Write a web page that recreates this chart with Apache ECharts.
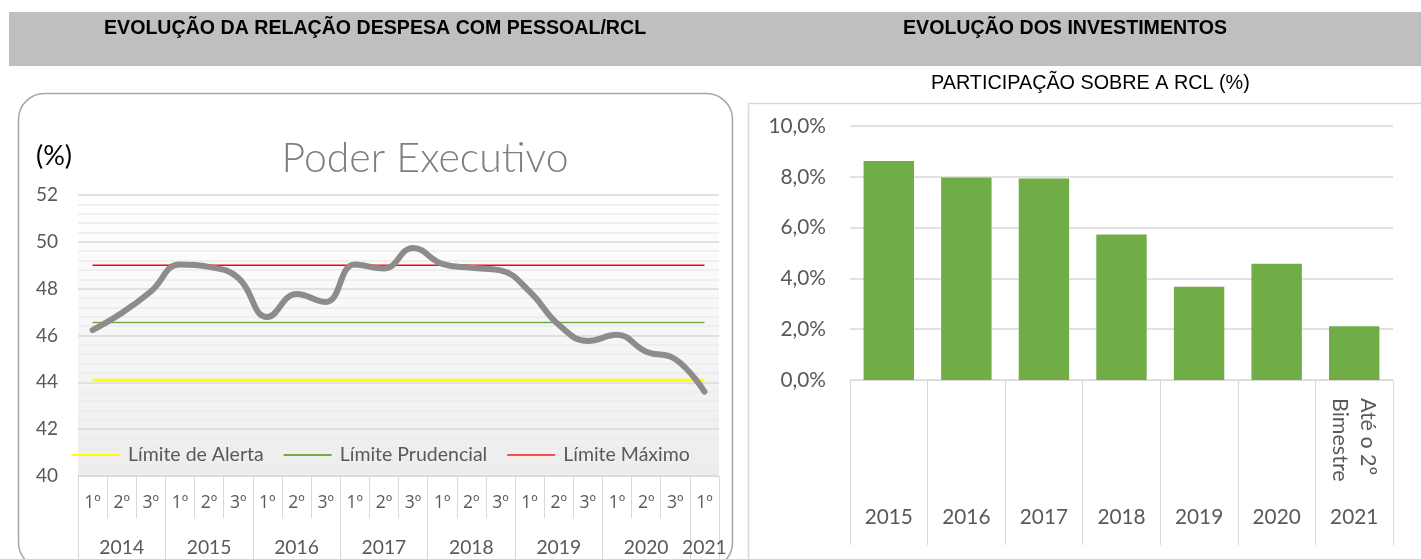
<!DOCTYPE html>
<html>
<head>
<meta charset="utf-8">
<script src="https://cdn.jsdelivr.net/npm/echarts@6/dist/echarts.min.js"></script>
<style>
html,body{margin:0;padding:0;background:#fff;}
#c{width:1421px;height:559px;}
</style>
</head>
<body>
<div id="c"></div>
<script>
// ---- Data: left chart (Despesa com Pessoal / RCL, Poder Executivo) ----
const years = ['2014','2015','2016','2017','2018','2019','2020','2021'];
const quartersPerYear = [3,3,3,3,3,3,3,1];
const quarterLabels = ['1º','2º','3º'];
const despesaPessoal = [46.23, 46.96, 47.88, 49.03, 48.93, 48.46, 46.79, 47.77, 47.43, 49.03, 48.86,
                        49.74, 49.06, 48.89, 48.78, 47.88, 46.46, 45.77, 46.03, 45.31, 44.99, 43.6];
const limiteAlerta = 44.1;
const limitePrudencial = 46.55;
const limiteMaximo = 49.0;
const leftYTicks = [40, 42, 44, 46, 48, 50, 52];

// ---- Data: right chart (Investimentos / RCL) ----
const invYears = ['2015','2016','2017','2018','2019','2020','2021'];
const invPct = [8.62, 7.97, 7.93, 5.73, 3.67, 4.58, 2.12];
const invNotes = ['', '', '', '', '', '', 'Até o 2º\nBimestre'];
const rightYTicks = [0, 2, 4, 6, 8, 10];

// ---- Build categories ----
const quarterCats = [];
const yearCats = [];
const yearLabelIdx = {};
const yearStartIdx = {};
years.forEach((y, i) => {
  const start = quarterCats.length;
  yearStartIdx[start] = true;
  for (let q = 0; q < quartersPerYear[i]; q++) {
    quarterCats.push(quarterLabels[q]);
    yearCats.push(y);
  }
  yearLabelIdx[start + Math.floor((quartersPerYear[i] - 1) / 2 + 0.5)] = true;
});

const CAL = 'Lato, "Open Sans", sans-serif';
const gray = '#595959';
const gridGray = '#d9d9d9';

const chart = echarts.init(document.getElementById('c'), null, {renderer: 'canvas'});
chart.setOption({
  animation: false,
  graphic: [
    {type: 'rect', z: -5, shape: {x: 9, y: 12, width: 1412, height: 54}, style: {fill: '#bfbfbf'}},
    {type: 'text', z: 10, left: 104, top: 19, style: {text: 'EVOLUÇÃO DA RELAÇÃO DESPESA COM PESSOAL/RCL', font: 'bold 19.6px "Liberation Sans", Arial', fill: '#000'}},
    {type: 'text', z: 10, left: 903, top: 19, style: {text: 'EVOLUÇÃO DOS INVESTIMENTOS', font: 'bold 19.6px "Liberation Sans", Arial', fill: '#000'}},
    {type: 'rect', z: -5, shape: {x: 18.5, y: 93.5, width: 714, height: 475, r: 26}, style: {fill: '#fff', stroke: '#a6a6a6', lineWidth: 1.5}},
    {type: 'rect', z: -5, shape: {x: 748.5, y: 103.5, width: 700, height: 480}, style: {fill: '#fff', stroke: gridGray, lineWidth: 1.5}},
    {type: 'text', z: 10, left: 36, top: 143, style: {text: '(%)', font: '27px Lato, "Open Sans"', fill: '#000'}},
    {type: 'text', z: 10, left: 931, top: 74, style: {text: 'PARTICIPAÇÃO SOBRE A RCL (%)', font: '19.8px "Liberation Sans", Arial', fill: '#000'}}
  ],
  title: [{
    text: 'Poder Executivo', left: 420, top: 133, textAlign: 'center',
    textStyle: {fontFamily: CAL, fontSize: 41, fontWeight: 300, color: '#7f7f7f'}
  }],
  legend: {
    left: 72, top: 445, padding: 0, itemWidth: 48, itemHeight: 2, itemGap: 20, icon: 'rect',
    data: ['Límite de Alerta', 'Límite Prudencial', 'Límite Máximo'],
    textStyle: {fontFamily: CAL, fontSize: 19.5, color: gray, padding: [0, 0, 0, 3]}
  },
  grid: [
    {left: 78, top: 195, width: 641, height: 281, show: true, borderWidth: 0,
     backgroundColor: new echarts.graphic.LinearGradient(0, 0, 0, 1, [{offset: 0, color: '#ffffff'}, {offset: 1, color: '#ededed'}])},
    {left: 850, top: 126, width: 543, height: 254}
  ],
  xAxis: [
    {type: 'category', gridIndex: 0, data: quarterCats, boundaryGap: true,
     axisLine: {show: true, lineStyle: {color: gridGray}},
     axisTick: {show: true, interval: 0, length: 42, lineStyle: {color: gridGray}},
     axisLabel: {interval: 0, margin: 18, fontFamily: '"Open Sans", Lato, sans-serif', fontSize: 17.5, color: gray}},
    {type: 'category', gridIndex: 0, data: yearCats, boundaryGap: true, position: 'bottom',
     axisLine: {show: false},
     axisTick: {show: true, length: 90, lineStyle: {color: gridGray}, interval: (i) => !!yearStartIdx[i]},
     axisLabel: {margin: 62, fontFamily: CAL, fontSize: 19.3, color: gray, interval: (i) => !!yearLabelIdx[i]}},
    {type: 'category', gridIndex: 1, data: invYears, boundaryGap: true,
     axisLine: {show: true, lineStyle: {color: gridGray}},
     axisTick: {show: true, interval: 0, length: 165, lineStyle: {color: gridGray}},
     axisLabel: {interval: 0, margin: 127, fontFamily: CAL, fontSize: 20.8, color: gray}},
    {type: 'category', gridIndex: 1, data: invNotes, boundaryGap: true, position: 'bottom',
     axisLine: {show: false}, axisTick: {show: false},
     axisLabel: {interval: 0, rotate: -90, margin: 18, lineHeight: 28, fontFamily: CAL, fontSize: 21.5, color: gray}}
  ],
  yAxis: [
    {type: 'value', gridIndex: 0, min: leftYTicks[0], max: leftYTicks[leftYTicks.length - 1], interval: leftYTicks[1] - leftYTicks[0],
     axisLine: {show: false}, axisTick: {show: false},
     axisLabel: {margin: 20, fontFamily: CAL, fontSize: 19, color: gray},
     splitLine: {show: true, lineStyle: {color: gridGray, width: 1.5}},
     minorTick: {show: false, splitNumber: 5},
     minorSplitLine: {show: true, lineStyle: {color: '#ececec', width: 1.5}}},
    {type: 'value', gridIndex: 1, min: rightYTicks[0], max: rightYTicks[rightYTicks.length - 1], interval: rightYTicks[1] - rightYTicks[0],
     axisLine: {show: false}, axisTick: {show: false},
     axisLabel: {margin: 24, fontFamily: CAL, fontSize: 20.8, color: gray,
                 formatter: (v) => v.toFixed(1).replace('.', ',') + '%'},
     splitLine: {show: true, lineStyle: {color: gridGray, width: 1.5}}}
  ],
  series: [
    {name: 'Límite de Alerta', type: 'line', xAxisIndex: 0, yAxisIndex: 0, symbol: 'none',
     data: quarterCats.map(() => limiteAlerta), lineStyle: {color: '#ffff00', width: 2.5}, itemStyle: {color: '#ffff00'}, z: 3},
    {name: 'Límite Prudencial', type: 'line', xAxisIndex: 0, yAxisIndex: 0, symbol: 'none',
     data: quarterCats.map(() => limitePrudencial), lineStyle: {color: '#70ad47', width: 1.5}, itemStyle: {color: '#70ad47'}, z: 3},
    {name: 'Límite Máximo', type: 'line', xAxisIndex: 0, yAxisIndex: 0, symbol: 'none',
     data: quarterCats.map(() => limiteMaximo), lineStyle: {color: '#ff0000', width: 1.5}, itemStyle: {color: '#ff4d4d'}, z: 3},
    {name: 'Poder Executivo', type: 'line', xAxisIndex: 0, yAxisIndex: 0, symbol: 'none', smooth: 0.45,
     data: despesaPessoal, lineStyle: {color: '#8c8c8c', width: 6, cap: 'round'}, z: 4},
    {name: 'Investimentos', type: 'bar', xAxisIndex: 2, yAxisIndex: 1, barCategoryGap: '35%',
     data: invPct, itemStyle: {color: '#70ad47'}}
  ]
});
</script>
</body>
</html>
